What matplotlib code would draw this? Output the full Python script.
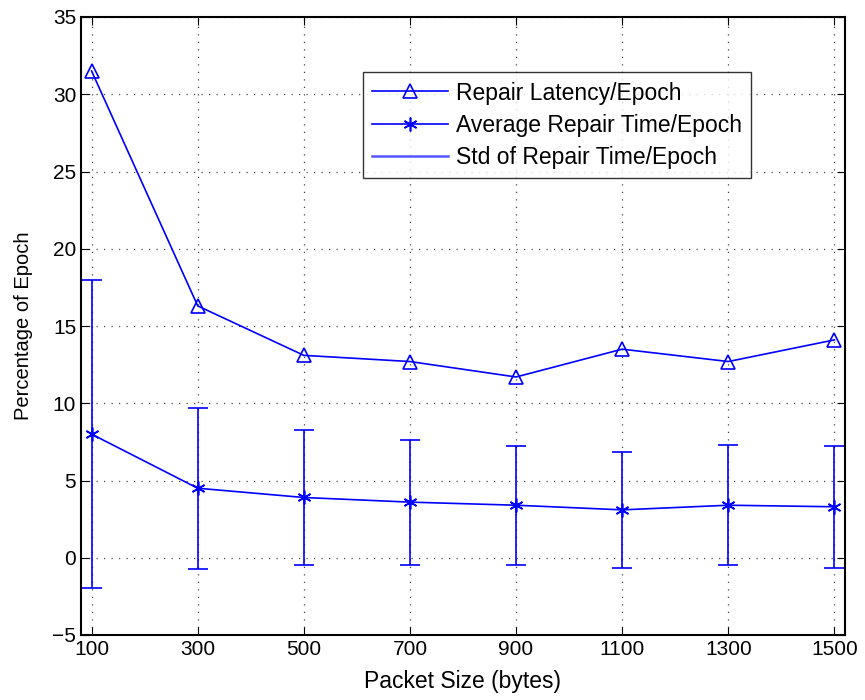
"""Repair latency and repair time as a percentage of epoch vs packet size."""

import matplotlib
matplotlib.use("Agg")
import matplotlib.pyplot as plt  # noqa: E402
from matplotlib.lines import Line2D  # noqa: E402

packet_sizes = [100, 300, 500, 700, 900, 1100, 1300, 1500]
repair_latency = [31.5, 16.3, 13.1, 12.7, 11.7, 13.5, 12.7, 14.1]
avg_repair_time = [8.0, 4.5, 3.9, 3.6, 3.4, 3.1, 3.4, 3.3]
std_repair_time = [9.95, 5.2, 4.4, 4.05, 3.85, 3.75, 3.9, 3.95]

plt.rcParams["font.family"] = ["Liberation Sans", "DejaVu Sans"]

fig = plt.figure(figsize=(8.65, 7.0), dpi=100)
ax = fig.add_axes([81 / 865, 1 - 635 / 700, (845 - 81) / 865, (635 - 17) / 700])

blue = "#0000ff"
asterisk = (6, 2, 0)
ax.plot(packet_sizes, repair_latency, color=blue, lw=1.2, marker="^", ms=10,
        mfc="none", mec=blue, mew=1.2, label="Repair Latency/Epoch")
ax.plot(packet_sizes, avg_repair_time, color=blue, lw=1.2, marker=asterisk, ms=10,
        mew=1.2, label="Average Repair Time/Epoch")
ax.errorbar(packet_sizes, avg_repair_time, yerr=std_repair_time, fmt="none",
            ecolor=blue, elinewidth=1.2, capsize=7, capthick=1.2,
            label="Std of Repair Time/Epoch")

ax.set_xlim(80, 1520)
ax.set_ylim(-5, 35)
ax.set_xticks(packet_sizes)
ax.set_yticks(range(-5, 36, 5))
ax.grid(True, color="#444444", linestyle=(0, (1, 5)), linewidth=0.9)
ax.tick_params(direction="in", top=True, right=True, labelsize=15, length=6)
for spine in ax.spines.values():
    spine.set_linewidth(1.5)

ax.set_xlabel("Packet Size (bytes)", fontsize=16.5, labelpad=8)
ax.set_ylabel("Percentage of Epoch", fontsize=14.5, labelpad=14)

handles, labels = ax.get_legend_handles_labels()
handles[2] = Line2D([], [], color="#5555ff", lw=1.8)
leg = ax.legend(handles, labels, loc="upper left", bbox_to_anchor=(0.354, 0.929),
                fontsize=16.5, frameon=True, fancybox=False, edgecolor="black",
                handlelength=3.3, handletextpad=0.35, borderpad=0.4,
                labelspacing=0.4)
leg.get_frame().set_linewidth(1.0)

fig.savefig("out.png", dpi=100)
